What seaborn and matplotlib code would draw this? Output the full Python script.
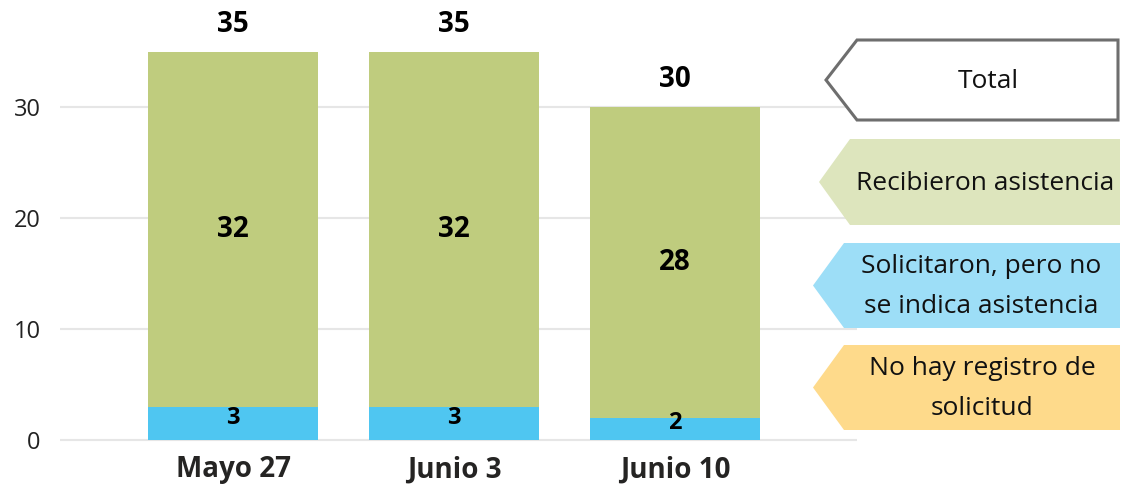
import matplotlib
matplotlib.use("Agg")
import matplotlib.pyplot as plt
from matplotlib.patches import Polygon
import seaborn as sns
import pandas as pd

# ---- data ----
categories = ["Mayo 27", "Junio 3", "Junio 10"]
recibieron = [32, 32, 28]
solicitaron = [3, 3, 2]
totals = [35, 35, 30]
yticks = [0, 10, 20, 30]
legend_labels = ["Total", "Recibieron asistencia",
                 "Solicitaron, pero no\nse indica asistencia",
                 "No hay registro de\nsolicitud"]

GREEN = "#BFCC7E"
BLUE = "#4FC6F1"
LEG_FILL = ["#FFFFFF", "#DDE5BD", "#9DDEF7", "#FEDA8B"]

sns.set_theme(style="white")
plt.rcParams["font.family"] = ["Open Sans", "DejaVu Sans"]

W, H = 1135, 484
fig = plt.figure(figsize=(W / 100, H / 100), dpi=100)
ax = fig.add_axes([60 / W, 0.0795, 797 / W, 0.917])

df = pd.DataFrame({"cat": categories, "total": totals,
                   "rec": recibieron, "sol": solicitaron})

sns.barplot(data=df, x="cat", y="total", color=GREEN, width=0.77,
            saturation=1, ax=ax, zorder=2, linewidth=0, edgecolor="none")
sns.barplot(data=df, x="cat", y="sol", color=BLUE, width=0.77,
            saturation=1, ax=ax, zorder=3, linewidth=0, edgecolor="none")

ax.set_xlim(-0.783, 2.824)
ax.set_ylim(-0.5, 39.5)
ax.set_yticks(yticks)
ax.set_xlabel("")
ax.set_ylabel("")
for s in ax.spines.values():
    s.set_visible(False)
ax.grid(axis="y", color="#E6E6E6", linewidth=1.5, zorder=0)
ax.set_axisbelow(True)
ax.tick_params(axis="y", length=0, pad=14, labelsize=17, labelcolor="#222222")
ax.tick_params(axis="x", length=0, pad=7, labelsize=20, labelcolor="#252423")
for lab in ax.get_xticklabels():
    lab.set_fontweight("bold")

for i in range(len(categories)):
    ax.text(i, totals[i] + 2.45, str(totals[i]), ha="center", va="center",
            fontsize=20, fontweight="bold", color="black", zorder=5)
    ax.text(i, solicitaron[i] + recibieron[i] / 2, str(recibieron[i]),
            ha="center", va="center", fontsize=20, fontweight="bold",
            color="black", zorder=5)
    ax.text(i, solicitaron[i] / 2 + 0.5, str(solicitaron[i]), ha="center",
            va="center", fontsize=17, fontweight="bold", color="black", zorder=5)

# ---- custom arrow legend ----
def fc(x, y):
    return (x / W, 1 - y / H)

shapes = [
    (857, 826, 40, 120, 1118),
    (850, 819, 139, 225, 1120),
    (844, 813, 243, 328, 1120),
    (844, 813, 345, 430, 1120),
]
text_x = [988, 985, 981, 982]
for k, (xl, xp, yt, yb, xr) in enumerate(shapes):
    pts = [fc(xl, yt), fc(xr, yt), fc(xr, yb), fc(xl, yb), fc(xp, (yt + yb) / 2)]
    if k == 0:
        poly = Polygon(pts, closed=True, facecolor="white", edgecolor="#6E6E6E",
                       linewidth=2.2, transform=fig.transFigure)
    else:
        poly = Polygon(pts, closed=True, facecolor=LEG_FILL[k], edgecolor="none",
                       transform=fig.transFigure)
    fig.patches.append(poly)
    tx, ty = fc(text_x[k], (yt + yb) / 2 + 1)
    fig.text(tx, ty, legend_labels[k], ha="center", va="center",
             fontsize=19, color="#111111", linespacing=1.75)

fig.savefig("out.png", dpi=100)
